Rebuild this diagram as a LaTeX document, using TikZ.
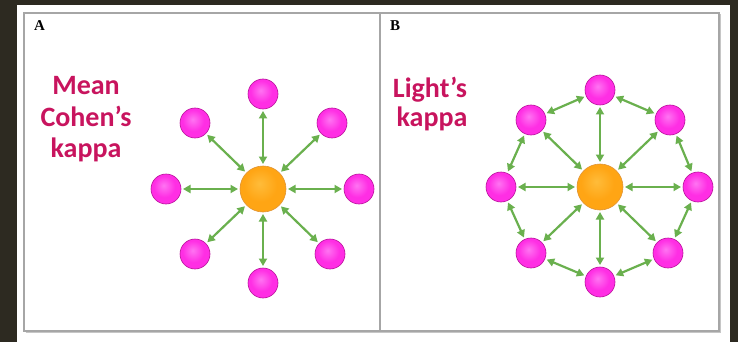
\documentclass[tikz,border=0pt]{standalone}
\usepackage{fontspec}
\setmainfont{Liberation Serif}
\newfontfamily\calib{Carlito}
\usetikzlibrary{arrows.meta}

\definecolor{bgdark}{HTML}{2D2A21}
\definecolor{framegray}{HTML}{A6A6A6}
\definecolor{framedark}{HTML}{8C8C8C}
\definecolor{txtred}{HTML}{C8145E}
\definecolor{arrowgreen}{HTML}{6AB04E}
\definecolor{pinkhi}{HTML}{FF74F2}
\definecolor{pinkmain}{HTML}{FF2EE4}
\definecolor{pinkrim}{HTML}{B8109A}
\definecolor{orangehi}{HTML}{FFBC3A}
\definecolor{orangemain}{HTML}{FFA514}
\definecolor{orangerim}{HTML}{D87800}

% glossy spheres: light spot up-left, darker rim
\pgfdeclareradialshading{pinksphere}{\pgfpoint{-4bp}{6bp}}{%
  color(0bp)=(pinkhi); color(18bp)=(pinkmain); color(38bp)=(pinkmain);
  color(52bp)=(pinkrim); color(60bp)=(pinkrim)}
\pgfdeclareradialshading{orangesphere}{\pgfpoint{-4bp}{6bp}}{%
  color(0bp)=(orangehi); color(18bp)=(orangemain); color(38bp)=(orangemain);
  color(52bp)=(orangerim); color(60bp)=(orangerim)}

\tikzset{
  pinkball/.style={circle, minimum size=30pt, inner sep=0pt, shading=pinksphere,
    draw=pinkrim, line width=0.6pt, outer sep=2pt},
  hubball/.style={circle, minimum size=46pt, inner sep=0pt, shading=orangesphere,
    draw=orangerim!80, line width=0.6pt, outer sep=2pt},
  link/.style={draw=arrowgreen, line width=2.2pt,
    {Triangle[length=7.5pt,width=8pt]}-{Triangle[length=7.5pt,width=8pt]}},
  kappatext/.style={text=txtred, inner sep=0pt,
    font={\calib\bfseries\fontsize{28}{30}\selectfont}},
  panellabel/.style={inner sep=0pt, font={\bfseries\fontsize{15}{15}\selectfont}},
}

\begin{document}
\begin{tikzpicture}[x=1pt, y=-1pt]
  \useasboundingbox (0,0) rectangle (738,342);
  % page and table frame
  \fill[bgdark] (0,0) rectangle (738,342);
  \fill[white] (17,5) rectangle (730,342);
  \draw[framedark!50, line width=1.4pt] (25.5,332.5) -- (720.5,332.5) -- (720.5,14.5);
  \draw[framegray, line width=1.2pt] (24,13) rectangle (719,331);
  \draw[framegray, line width=1.2pt] (380,13) -- (380,331);

  \node[panellabel, anchor=base west] (labA) at (34,31) {A};
  \node[panellabel, anchor=base west] (labB) at (390,31) {B};

  % panel A text
  \node[kappatext, anchor=base] (meanA) at (86,95) {Mean};
  \node[kappatext, anchor=base] (cohenA) at (86,126) {Cohen’s};
  \node[kappatext, anchor=base] (kappaA) at (86,157) {kappa};

  % panel B text
  \node[kappatext, anchor=base] (lightB) at (430,98) {Light’s};
  \node[kappatext, anchor=base] (kappaB) at (432,127) {kappa};

  % panel A: star
  \node[hubball] (aC) at (263,189) {};
  \node[pinkball] (aT)  at (263,94) {};
  \node[pinkball] (aTR) at (332,123) {};
  \node[pinkball] (aR)  at (359,189) {};
  \node[pinkball] (aBR) at (330,254) {};
  \node[pinkball] (aB)  at (263,283) {};
  \node[pinkball] (aBL) at (195,254) {};
  \node[pinkball] (aL)  at (166,189) {};
  \node[pinkball] (aTL) at (195,123) {};
  \foreach \n in {aT,aTR,aR,aBR,aB,aBL,aL,aTL}
    \draw[link] (aC) -- (\n);

  % panel B: star plus ring
  \node[hubball] (bC) at (600,187) {};
  \node[pinkball] (bT)  at (600,90) {};
  \node[pinkball] (bTR) at (670,120) {};
  \node[pinkball] (bR)  at (698,187) {};
  \node[pinkball] (bBR) at (668,253) {};
  \node[pinkball] (bB)  at (600,282) {};
  \node[pinkball] (bBL) at (531,253) {};
  \node[pinkball] (bL)  at (501,187) {};
  \node[pinkball] (bTL) at (531,120) {};
  \foreach \n in {bT,bTR,bR,bBR,bB,bBL,bL,bTL}
    \draw[link] (bC) -- (\n);
  \foreach \u/\v in {bT/bTR,bTR/bR,bR/bBR,bBR/bB,bB/bBL,bBL/bL,bL/bTL,bTL/bT}
    \draw[link] (\u) -- (\v);
\end{tikzpicture}
\end{document}
